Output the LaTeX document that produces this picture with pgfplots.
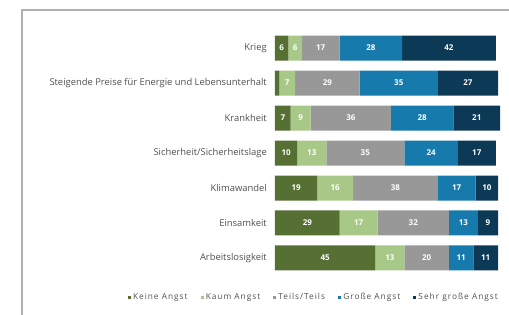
\documentclass[border=0pt]{standalone}
\usepackage{fontspec}
\setmainfont{Open Sans}
\newfontfamily\legfont{Open Sans}[LetterSpace=12]
\usepackage{pgfplots}
\usepackage{pgfplotstable}
\pgfplotsset{compat=1.18}
\definecolor{cA}{RGB}{86,112,52}
\definecolor{cB}{RGB}{168,200,136}
\definecolor{cC}{RGB}{152,152,152}
\definecolor{cD}{RGB}{22,122,172}
\definecolor{cE}{RGB}{12,58,86}
\definecolor{frame}{RGB}{175,175,175}
\definecolor{lab}{RGB}{80,80,80}
\pgfplotstableread{
cat kein kaum teils gross sehr
0 6 6 17 28 42
1 2 7 29 35 27
2 7 9 36 28 21
3 10 13 35 24 17
4 19 16 38 17 10
5 29 17 32 13 9
6 45 13 20 11 11
}\data
\begin{document}
\begin{tikzpicture}
\path[use as bounding box] (0,0) rectangle (509pt,315pt);
\draw[frame, line width=1.2pt] (22pt,0) -- (22pt,305pt) -- (509pt,305pt);
\begin{axis}[
  at={(275pt,39.5pt)}, anchor=south west,
  scale only axis, width=223pt, height=245pt,
  xmin=0, xmax=100, ymin=-0.5, ymax=6.5, y dir=reverse,
  xbar stacked, bar width=25pt,
  axis line style={draw=none}, tick style={draw=none},
  clip=false,
  xtick=\empty,
  ytick={0,...,6},
  yticklabels={Krieg, Steigende Preise für Energie und Lebensunterhalt, Krankheit, Sicherheit/Sicherheitslage, Klimawandel, Einsamkeit, Arbeitslosigkeit},
  yticklabel style={font=\fontsize{9.4}{10}\selectfont, text=lab, inner sep=0pt, xshift=-8pt},
  legend columns=5,
  legend style={at={(1,0)}, anchor=east, xshift=2pt, yshift=-22pt, draw=none, fill=none,
    font=\legfont\fontsize{8.3}{10}\selectfont, text=lab, inner sep=0pt,
    /tikz/every even column/.append style={column sep=11pt}},
  legend image code/.code={\fill[#1] (0pt,-1.6pt) rectangle (3.2pt,1.6pt);},
  /pgf/number format/assume math mode=true,
  visualization depends on=rawx \as \seg,
  nodes near coords={\pgfmathparse{\seg<3?0:1}\ifnum\pgfmathresult=1 \pgfmathprintnumber[fixed,precision=0]{\seg}\fi},
  every node near coord/.append style={anchor=center, text=white, font=\fontsize{8}{9}\selectfont\bfseries},
]
\addplot[fill=cA, draw=none] table[x=kein,y=cat] {\data};
\addplot[fill=cB, draw=none] table[x=kaum,y=cat] {\data};
\addplot[fill=cC, draw=none] table[x=teils,y=cat] {\data};
\addplot[fill=cD, draw=none] table[x=gross,y=cat] {\data};
\addplot[fill=cE, draw=none] table[x=sehr,y=cat] {\data};
\legend{Keine Angst, Kaum Angst, Teils/Teils, Große Angst, Sehr große Angst}
\end{axis}
\end{tikzpicture}
\end{document}
